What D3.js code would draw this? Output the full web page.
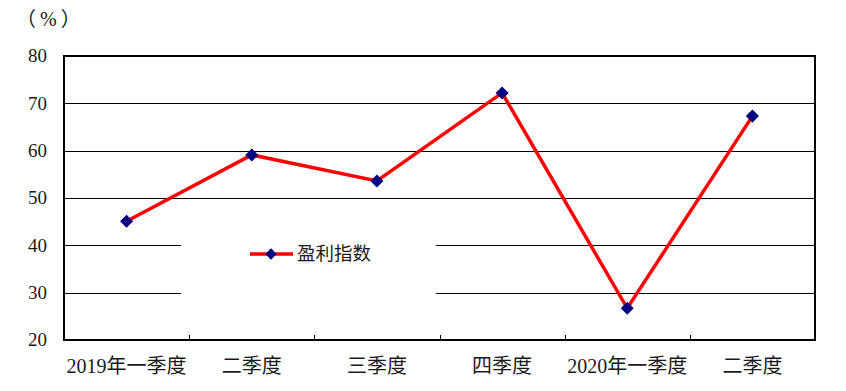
<!DOCTYPE html>
<html>
<head>
<meta charset="utf-8">
<script src="https://cdnjs.cloudflare.com/ajax/libs/d3/7.8.5/d3.min.js"></script>
<style>
  body { margin: 0; background: #fff; }
</style>
</head>
<body>
<div id="chart"></div>
<script>
// quarters and profit index values (%)
var quarters = ['2019q1', '2019q2', '2019q3', '2019q4', '2020q1', '2020q2'];
var quarterLabels = ['2019年一季度', '二季度', '三季度', '四季度', '2020年一季度', '二季度'];
var profitIndex = [45.1, 59.1, 53.6, 72.2, 26.7, 67.3];
var yTicks = [20, 30, 40, 50, 60, 70, 80];
var seriesName = '盈利指数';

var W = 846, H = 391;
var margin = {left: 64, right: 31, top: 56, bottom: 51};
var width = W - margin.left - margin.right;
var height = H - margin.top - margin.bottom;
var fontFam = "'Liberation Serif', 'Times New Roman', Tinos, 'DejaVu Serif', 'Noto Sans CJK SC', serif";

var svg = d3.select('#chart').append('svg')
    .attr('width', W)
    .attr('height', H)
    .attr('font-family', fontFam)
    .style('font-family', fontFam);

var g = svg.append('g')
    .attr('transform', 'translate(' + margin.left + ',' + margin.top + ')');

var x = d3.scaleBand().domain(quarters).range([0, width]);
var y = d3.scaleLinear().domain([20, 80]).range([height, 0]);

// gridlines
g.selectAll('.grid')
    .data(yTicks.filter(function(d){ return d > 20 && d < 80; }))
    .enter().append('line')
    .attr('x1', 0).attr('x2', width)
    .attr('y1', function(d){ return Math.round(y(d)) + 0.5; })
    .attr('y2', function(d){ return Math.round(y(d)) + 0.5; })
    .style('stroke', '#000')
    .style('stroke-width', 1);

// y labels
g.selectAll('.ylab')
    .data(yTicks)
    .enter().append('text')
    .attr('x', -17)
    .attr('y', function(d){ return y(d); })
    .attr('dy', '0.33em')
    .attr('text-anchor', 'end')
    .attr('font-size', 19)
    .style('fill', '#1a1a1a')
    .text(function(d){ return d; });

// category ticks (pointing up inside the plot)
var tickPos = quarters.slice(1).map(function(d){ return x(d); });
g.selectAll('.xtick')
    .data(tickPos)
    .enter().append('line')
    .attr('x1', function(d){ return Math.round(d) + 0.5; })
    .attr('x2', function(d){ return Math.round(d) + 0.5; })
    .attr('y1', height)
    .attr('y2', height - 5)
    .style('stroke', '#000')
    .style('stroke-width', 1);

// category labels
g.selectAll('.xlab')
    .data(quarters)
    .enter().append('text')
    .attr('x', function(d){ return x(d) + x.bandwidth() / 2; })
    .attr('y', height + 26)
    .attr('dy', '0.35em')
    .attr('text-anchor', 'middle')
    .attr('font-size', 20)
    .style('fill', '#1a1a1a')
    .text(function(d, i){ return quarterLabels[i]; });

// legend (white box over gridlines)
var lg = g.append('g');
lg.append('rect')
    .attr('x', 181 - margin.left)
    .attr('y', 212 - margin.top)
    .attr('width', 255)
    .attr('height', 104)
    .style('fill', '#fff');
lg.append('line')
    .attr('x1', 250 - margin.left).attr('x2', 293 - margin.left)
    .attr('y1', 254 - margin.top).attr('y2', 254 - margin.top)
    .style('stroke', '#ff0000')
    .style('stroke-width', 3.5);
lg.append('path')
    .attr('d', d3.symbol().type(d3.symbolSquare).size(64))
    .attr('transform', 'translate(' + (271 - margin.left) + ',' + (254 - margin.top) + ') rotate(45)')
    .style('fill', '#000080');
lg.append('text')
    .attr('x', 297 - margin.left)
    .attr('y', 254 - margin.top)
    .attr('dy', '0.35em')
    .attr('font-size', 18.5)
    .style('fill', '#1a1a1a')
    .text(seriesName);

// plot border
g.append('rect')
    .attr('x', 0).attr('y', 0)
    .attr('width', width).attr('height', height)
    .style('fill', 'none')
    .style('stroke', '#000')
    .style('stroke-width', 2);

// series line
var line = d3.line()
    .x(function(d, i){ return x(quarters[i]) + x.bandwidth() / 2; })
    .y(function(d){ return y(d); });

g.append('path')
    .datum(profitIndex)
    .attr('d', line)
    .style('fill', 'none')
    .style('stroke', '#ff0000')
    .style('stroke-width', 3.5);

g.selectAll('.pt')
    .data(profitIndex)
    .enter().append('path')
    .attr('d', d3.symbol().type(d3.symbolSquare).size(85))
    .attr('transform', function(d, i){
        return 'translate(' + (x(quarters[i]) + x.bandwidth() / 2) + ',' + y(d) + ') rotate(45)';
    })
    .style('fill', '#000080');

// unit label
svg.append('text')
    .attr('x', 16)
    .attr('y', 19)
    .attr('dy', '0.35em')
    .attr('font-size', 20)
    .attr('letter-spacing', 4)
    .style('fill', '#1a1a1a')
    .text('（%）');
</script>
</body>
</html>
